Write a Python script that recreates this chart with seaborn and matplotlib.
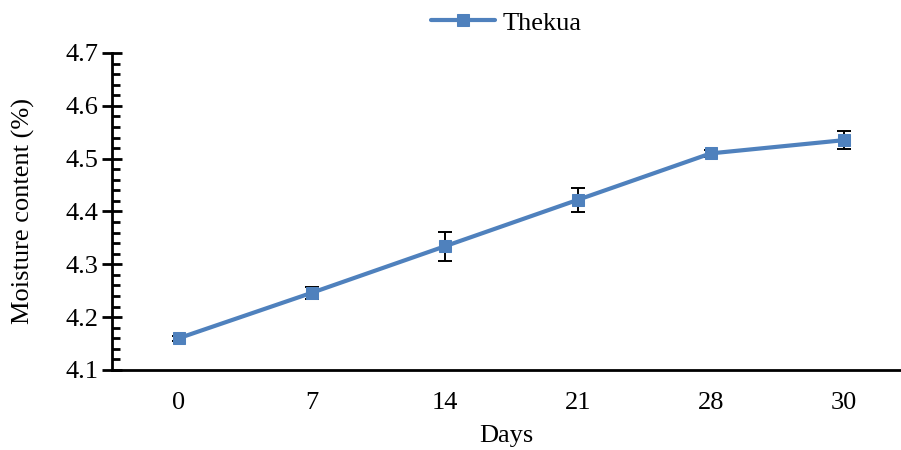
import pandas as pd
import seaborn as sns
import matplotlib.pyplot as plt
from matplotlib.ticker import MultipleLocator

# data
days = ["0", "7", "14", "21", "28", "30"]
moisture = [4.160, 4.246, 4.334, 4.422, 4.510, 4.535]
err = [0.005, 0.012, 0.028, 0.022, 0.006, 0.017]

df = pd.DataFrame({"Days": days, "Moisture": moisture, "err": err})

sns.set_style("ticks", {"axes.edgecolor": "black", "text.color": "black",
                        "xtick.color": "black", "ytick.color": "black",
                        "axes.labelcolor": "black"})
plt.rcParams["font.family"] = ["Liberation Serif", "DejaVu Serif"]

fig = plt.figure(figsize=(9.01, 4.5), dpi=100)
ax = fig.add_axes([112 / 901, 1 - 370 / 450, (901 - 112) / 901, (370 - 53) / 450])

blue = "#4F81BD"
xpos = list(range(len(days)))
ax.errorbar(xpos, df["Moisture"], yerr=df["err"], fmt="none", ecolor="black",
            elinewidth=1.4, capsize=5, capthick=1.4, zorder=3)
sns.lineplot(data=df, x="Days", y="Moisture", sort=False, color=blue, lw=3,
             marker="s", markersize=8.5, markeredgecolor=blue, label="Thekua",
             ax=ax, zorder=4)

ax.set_xlim(-0.5, 5.43)
ax.set_ylim(4.1, 4.7)
ax.yaxis.set_major_locator(MultipleLocator(0.1))
ax.yaxis.set_minor_locator(MultipleLocator(0.02))
ax.tick_params(axis="y", which="major", direction="inout", length=14, width=2,
               labelsize=19, pad=3)
ax.tick_params(axis="y", which="minor", direction="in", length=6, width=2)
ax.tick_params(axis="x", length=0, labelsize=19, pad=16)

for s in ["top", "right"]:
    ax.spines[s].set_visible(False)
ax.spines["left"].set_linewidth(2)
ax.spines["bottom"].set_linewidth(2)

ax.set_xlabel("Days", fontsize=19, labelpad=8)
ax.set_ylabel("Moisture content (%)", fontsize=19, labelpad=22)

leg = ax.legend(loc="lower center", bbox_to_anchor=(0.5, 1.025), frameon=False,
                fontsize=19, handlelength=2.4, handletextpad=0.3,
                borderaxespad=0)

plt.savefig("out.png", dpi=100)
